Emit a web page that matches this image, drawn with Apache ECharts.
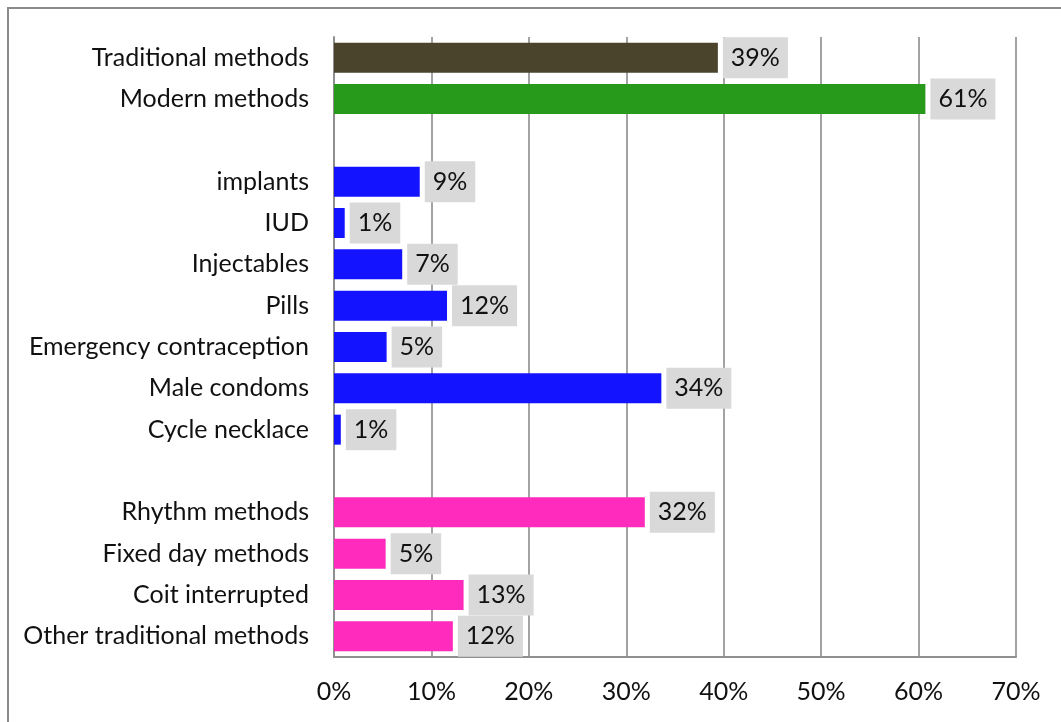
<!DOCTYPE html>
<html>
<head>
<meta charset="utf-8">
<script src="https://cdn.jsdelivr.net/npm/echarts@6/dist/echarts.min.js"></script>
<style>
  html, body { margin: 0; padding: 0; background: #fff; }
  #chart { width: 1061px; height: 722px; }
</style>
</head>
<body>
<div id="chart"></div>
<script>
// categories, top to bottom (blank rows separate the groups)
var categories = [
    'Traditional methods', 'Modern methods', ' ',
    'implants', 'IUD', 'Injectables', 'Pills', 'Emergency contraception',
    'Male condoms', 'Cycle necklace', '  ',
    'Rhythm methods', 'Fixed day methods', 'Coit interrupted', 'Other traditional methods'
];
// share of users, percent
var values = [
    39.4, 60.7, null,
    8.8, 1.1, 7.0, 11.6, 5.4,
    33.6, 0.7, null,
    31.9, 5.3, 13.3, 12.2
];
// which group each row belongs to
var groups = [
    'trad', 'modern', '',
    'modernItem', 'modernItem', 'modernItem', 'modernItem', 'modernItem',
    'modernItem', 'modernItem', '',
    'tradItem', 'tradItem', 'tradItem', 'tradItem'
];
var xTicks = [0, 10, 20, 30, 40, 50, 60, 70];

var groupColor = {
    trad: '#4a442d',
    modern: '#279a1b',
    modernItem: '#1313ff',
    tradItem: '#ff2bbd'
};
var font = 'Lato, "Open Sans", sans-serif';

var barData = [];
for (var i = 0; i < values.length; i++) {
    barData.push({
        value: values[i],
        itemStyle: { color: groupColor[groups[i]] || '#000' }
    });
}

var chart = echarts.init(document.getElementById('chart'));
chart.setOption({
    animation: false,
    graphic: [{
        type: 'rect',
        shape: { x: 8, y: 8, width: 1100, height: 800 },
        style: { fill: 'none', stroke: '#8a8a8a', lineWidth: 2 },
        silent: true
    }],
    grid: { left: 334, right: 45, top: 37, bottom: 65 },
    xAxis: {
        type: 'value',
        min: xTicks[0],
        max: xTicks[xTicks.length - 1],
        interval: 10,
        axisLine: { show: true, lineStyle: { color: '#8f8f8f', width: 2 } },
        axisTick: { show: false },
        splitLine: { show: true, lineStyle: { color: '#a3a3a3', width: 2 } },
        axisLabel: {
            formatter: '{value}%',
            color: '#111',
            fontFamily: font,
            fontSize: 25,
            margin: 22
        }
    },
    yAxis: {
        type: 'category',
        inverse: true,
        data: categories,
        axisLine: { show: true, lineStyle: { color: '#8f8f8f', width: 2 } },
        axisTick: { show: false },
        axisLabel: {
            color: '#111',
            fontFamily: font,
            fontSize: 25,
            margin: 25
        }
    },
    series: [{
        type: 'bar',
        data: barData,
        barWidth: 30,
        label: {
            show: true,
            position: 'right',
            distance: 5,
            formatter: function (p) {
                return p.value == null ? '' : Math.round(p.value) + '%';
            },
            color: '#111',
            fontFamily: font,
            fontSize: 25,
            backgroundColor: '#d9d9d9',
            padding: [8, 8, 8, 8]
        }
    }]
});
</script>
</body>
</html>
